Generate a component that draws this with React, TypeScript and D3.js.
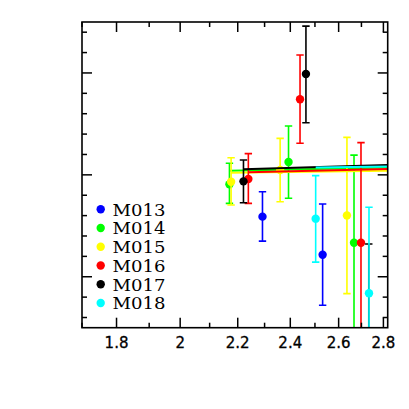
import React from "react";
import * as d3 from "d3";

const W = 409;
const H = 409;
const M = { left: 82, right: 387.7, top: 22, bottom: 327.7 };

const seriesNames = ["M013", "M014", "M015", "M016", "M017", "M018"];
const seriesColors = ["#0000ff", "#00ff00", "#ffff00", "#ff0000", "#000000", "#00ffff"];

// points: [x, y, yTop, yBottom]
const m013 = [
  [2.292, -0.205, -0.083, -0.325],
  [2.532, -0.392, -0.143, -0.64],
];
const m014 = [
  [2.17, -0.046, 0.057, -0.14],
  [2.393, 0.063, 0.24, -0.115],
  [2.667, -0.333, 0.097, -1.2],
];
const m015 = [
  [2.176, -0.034, 0.084, -0.148],
  [2.36, 0.024, 0.179, -0.132],
  [2.636, -0.199, 0.184, -0.583],
];
const m016 = [
  [2.239, -0.02, 0.104, -0.14],
  [2.439, 0.371, 0.588, 0.155],
  [2.698, -0.333, 0.158, -1.2],
];
const m017 = [
  [2.221, -0.032, 0.073, -0.137],
  [2.463, 0.495, 0.73, 0.256],
  [2.733, -0.95, -0.339, -1.5],
];
const m018 = [
  [2.503, -0.215, -0.004, -0.428],
  [2.734, -0.581, -0.159, -1.2],
];
const seriesPoints = [m013, m014, m015, m016, m017, m018];

// fit lines: [xStart, yStart, xEnd, yEnd] (null = none visible)
const fitLines: (number[] | null)[] = [
  null,
  [2.17, 0.0204, 2.82, 0.0361],
  [2.176, 0.0105, 2.82, 0.0204],
  [2.239, 0.0125, 2.82, 0.0287],
  [2.221, 0.0272, 2.82, 0.0483],
  [2.503, 0.0361, 2.82, 0.041],
];

const xTickLabels = [1.8, 2, 2.2, 2.4, 2.6, 2.8];
const xMinorTicks = [1.7, 1.9, 2.1, 2.3, 2.5, 2.7];
const yMajorTicks = [-0.5, 0, 0.5];
const yMinorTicks = [-0.7, -0.6, -0.4, -0.3, -0.2, -0.1, 0.1, 0.2, 0.3, 0.4, 0.6, 0.7];

export default function App() {
  const x = d3.scaleLog().domain([1.7, 2.82]).range([M.left, M.right]);
  const y = d3.scaleLinear().domain([-0.75, 0.75]).range([M.bottom, M.top]);
  const line = d3.line<number[]>().x((d) => x(d[0])).y((d) => y(d[1]));
  const cap = 3.7;
  const MAJ = 10;
  const MIN = 5;

  return (
    <svg
      width={W}
      height={H}
      style={{ position: "absolute", left: 0, top: 0, background: "#fff" }}
    >
      <defs>
        <clipPath id="plotclip">
          <rect x={M.left} y={M.top} width={M.right - M.left} height={M.bottom - M.top} />
        </clipPath>
      </defs>
      <rect width={W} height={H} fill="#fff" />

      <g clipPath="url(#plotclip)">
        {seriesPoints.map((pts, si) => {
          const c = seriesColors[si];
          const fl = fitLines[si];
          return (
            <g key={si}>
              {fl && (
                <path
                  d={line([
                    [fl[0], fl[1]],
                    [fl[2], fl[3]],
                  ]) as string}
                  stroke={c}
                  strokeWidth={2}
                  fill="none"
                />
              )}
              {pts.map((p, i) => {
                const px = x(p[0]);
                return (
                  <g key={i}>
                    <line x1={px} x2={px} y1={y(p[2])} y2={y(p[3])} stroke={c} strokeWidth={1.6} />
                    <line x1={px - cap} x2={px + cap} y1={y(p[2])} y2={y(p[2])} stroke={c} strokeWidth={1.6} />
                    <line x1={px - cap} x2={px + cap} y1={y(p[3])} y2={y(p[3])} stroke={c} strokeWidth={1.6} />
                    <circle cx={px} cy={y(p[1])} r={4.2} fill={c} />
                  </g>
                );
              })}
            </g>
          );
        })}
      </g>

      {/* frame */}
      <rect
        x={M.left}
        y={M.top}
        width={M.right - M.left}
        height={M.bottom - M.top}
        fill="none"
        stroke="#000"
        strokeWidth={1.6}
      />
      {/* x ticks */}
      {xTickLabels.map((t) => (
        <g key={"xM" + t}>
          <line x1={x(t)} x2={x(t)} y1={M.bottom} y2={M.bottom - MAJ} stroke="#000" strokeWidth={1.5} />
          <line x1={x(t)} x2={x(t)} y1={M.top} y2={M.top + MAJ} stroke="#000" strokeWidth={1.5} />
          <text
            x={x(t)}
            y={347.5}
            textAnchor="middle"
            fontFamily="DejaVu Sans"
            fontSize={15}
            fill="#000"
            stroke="#000"
            strokeWidth={0.3}
          >
            {String(t)}
          </text>
        </g>
      ))}
      {xMinorTicks.map((t) => (
        <g key={"xm" + t}>
          <line x1={x(t)} x2={x(t)} y1={M.bottom} y2={M.bottom - MIN} stroke="#000" strokeWidth={1.5} />
          <line x1={x(t)} x2={x(t)} y1={M.top} y2={M.top + MIN} stroke="#000" strokeWidth={1.5} />
        </g>
      ))}
      {/* y ticks */}
      {yMajorTicks.map((t) => (
        <g key={"yM" + t}>
          <line x1={M.left} x2={M.left + MAJ} y1={y(t)} y2={y(t)} stroke="#000" strokeWidth={1.5} />
          <line x1={M.right} x2={M.right - MAJ} y1={y(t)} y2={y(t)} stroke="#000" strokeWidth={1.5} />
        </g>
      ))}
      {yMinorTicks.map((t) => (
        <g key={"ym" + t}>
          <line x1={M.left} x2={M.left + MIN} y1={y(t)} y2={y(t)} stroke="#000" strokeWidth={1.5} />
          <line x1={M.right} x2={M.right - MIN} y1={y(t)} y2={y(t)} stroke="#000" strokeWidth={1.5} />
        </g>
      ))}

      {/* legend */}
      {seriesNames.map((n, i) => {
        const ly = 209.3 + i * 18.75;
        return (
          <g key={n}>
            <circle cx={100.7} cy={ly} r={4.2} fill={seriesColors[i]} />
            <text
              x={112.5}
              y={ly + 6.3}
              fontFamily="DejaVu Serif"
              fontSize={17}
              textLength={53}
              lengthAdjust="spacingAndGlyphs"
              fill="#000"
            >
              {n}
            </text>
          </g>
        );
      })}
    </svg>
  );
}
